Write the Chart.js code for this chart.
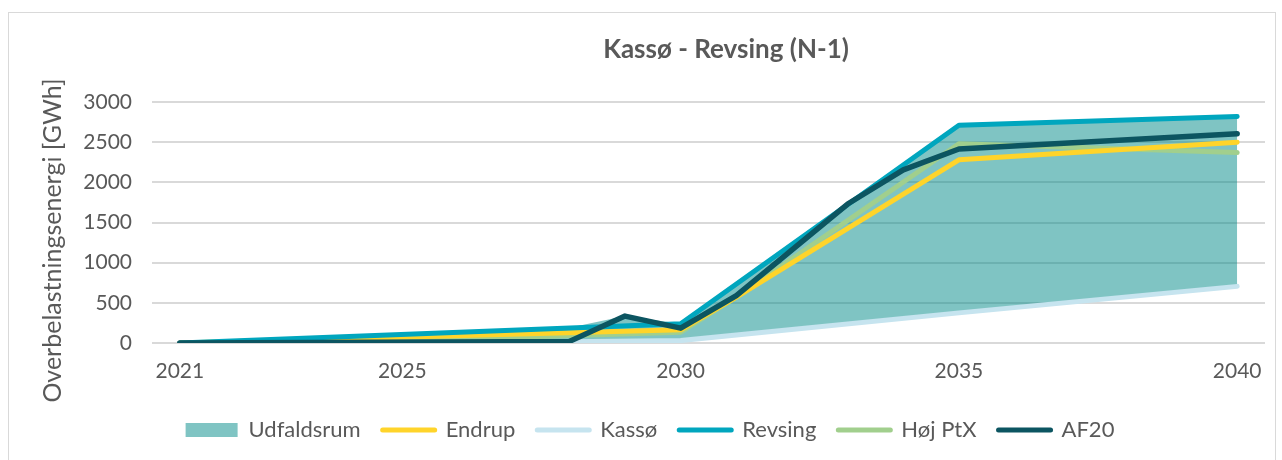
<!DOCTYPE html>
<html><head><meta charset="utf-8">
<script src="https://cdn.jsdelivr.net/npm/chart.js@4.4.1/dist/chart.umd.min.js"></script>
<style>
html,body{margin:0;padding:0;background:#fff;width:1282px;height:460px;overflow:hidden;}
#wrap{position:relative;width:1282px;height:460px;}
#frame{position:absolute;left:8px;top:12px;width:1268px;height:470px;border:1px solid #D9D9D9;box-sizing:border-box;}
#title{position:absolute;left:476px;width:500px;top:33px;text-align:center;font:bold 26px Lato;color:#595959;line-height:30px;}
canvas{position:absolute;left:0;top:0;}
</style></head><body>
<div id="wrap"><div id="frame"></div><canvas id="c" width="1282" height="460"></canvas><div id="title">Kassø - Revsing (N-1)</div></div>
<script>
// ---- data ----
const xTickYears = [2021, 2025, 2030, 2035, 2040];
const yTickStep = 500;
const yAxisTitle = 'Overbelastningsenergi [GWh]';

const udfaldMaxYears  = [2021, 2028, 2029, 2030, 2031, 2032, 2033, 2034, 2035, 2040];
const udfaldMaxValues = [0, 190, 335, 240, 734, 1228, 1730, 2216, 2710, 2820];
const udfaldMinYears  = [2021, 2028, 2030, 2035, 2040];
const udfaldMinValues = [0, 15, 30, 375, 705];

const endrupYears  = [2021, 2030, 2031, 2035, 2040];
const endrupValues = [0, 165, 570, 2280, 2500];

const kassoYears  = [2021, 2028, 2030, 2035, 2040];
const kassoValues = [0, 15, 30, 375, 705];

const revsingYears  = [2021, 2030, 2035, 2040];
const revsingValues = [0, 240, 2710, 2820];

const hojPtxYears  = [2021, 2024, 2030, 2031, 2035, 2040];
const hojPtxValues = [0, 10, 135, 570, 2480, 2370];

const af20Years  = [2021, 2028, 2029, 2030, 2031, 2032, 2033, 2034, 2035, 2040];
const af20Values = [0, 20, 335, 185, 590, 1160, 1730, 2155, 2415, 2605];

const pts = (xs, ys) => xs.map((x, i) => ({x: x, y: ys[i]}));

const FONT = 'Lato';
const TXT = '#595959';
const FILL = 'rgba(0,137,136,0.5)';

const lineDs = (label, xs, ys, color, order, width) => ({
  label, data: pts(xs, ys), borderColor: color, backgroundColor: color,
  borderWidth: width || 5, pointRadius: 0, pointHoverRadius: 0, fill: false,
  borderCapStyle: 'round', borderJoinStyle: 'round', tension: 0, order
});

const datasets = [
  { label: 'Udfaldsrum', data: pts(udfaldMaxYears, udfaldMaxValues), borderColor: 'rgba(0,0,0,0)',
    borderWidth: 0, backgroundColor: FILL, pointRadius: 0, fill: '+1', order: 20, legendRect: true },
  { label: '_min', data: pts(udfaldMinYears, udfaldMinValues), borderColor: 'rgba(0,0,0,0)',
    borderWidth: 0, pointRadius: 0, fill: false, order: 21 },
  lineDs('Endrup', endrupYears, endrupValues, '#FFD42A', 4),
  lineDs('Kassø', kassoYears, kassoValues, '#C6E4EF', 6),
  lineDs('Revsing', revsingYears, revsingValues, '#00A6BE', 3),
  lineDs('Høj PtX', hojPtxYears, hojPtxValues, '#A1CF8D', 5),
  lineDs('AF20', af20Years, af20Values, '#0C5561', 1, 5.5)
];

const yTitlePlugin = {
  id: 'yTitle',
  afterDraw(chart) {
    const ctx = chart.ctx, a = chart.chartArea;
    ctx.save();
    ctx.translate(53, (a.top + a.bottom) / 2 + 18);
    ctx.rotate(-Math.PI / 2);
    ctx.font = '25px ' + FONT;
    ctx.fillStyle = TXT;
    ctx.textAlign = 'center';
    ctx.textBaseline = 'middle';
    ctx.fillText(yAxisTitle, 0, 0);
    ctx.restore();
  }
};

new Chart(document.getElementById('c'), {
  type: 'line',
  data: { datasets },
  plugins: [yTitlePlugin],
  options: {
    responsive: false,
    animation: false,
    events: [],
    layout: { padding: { left: 35, right: 17, top: 102, bottom: 9 } },
    plugins: {
      tooltip: { enabled: false },
      title: { display: false },
      filler: { propagate: false },
      legend: {
        position: 'bottom',
        labels: {
          usePointStyle: true,
          pointStyleWidth: 52,
          boxHeight: 14,
          padding: 22,
          color: TXT,
          font: { family: FONT, size: 22 },
          generateLabels: (chart) => chart.data.datasets
            .map((ds, i) => ({ ds, i }))
            .filter(o => o.ds.label !== '_min')
            .map(({ ds, i }) => ds.legendRect ? {
              text: ds.label, fillStyle: ds.backgroundColor, strokeStyle: ds.backgroundColor,
              lineWidth: 0, pointStyle: 'rect', hidden: false, datasetIndex: i, fontColor: TXT
            } : {
              text: ds.label, fillStyle: ds.borderColor, strokeStyle: ds.borderColor,
              lineWidth: 5, lineCap: 'round', pointStyle: 'line', hidden: false, datasetIndex: i, fontColor: TXT
            })
        }
      }
    },
    scales: {
      x: {
        type: 'linear', min: 2020.5, max: 2040.5,
        afterBuildTicks: (s) => { s.ticks = xTickYears.map(v => ({ value: v })); },
        ticks: { color: TXT, font: { family: FONT, size: 21 }, padding: 16, autoSkip: false, maxRotation: 0,
                 callback: (v) => String(v) },
        grid: { display: false, drawTicks: false },
        border: { display: false },
        afterFit: (s) => { s.height = 54; }
      },
      y: {
        min: 0, max: 3000,
        ticks: { stepSize: yTickStep, color: TXT, font: { family: FONT, size: 21 }, padding: 20,
                 callback: (v) => String(v) },
        grid: { color: '#D9D9D9', lineWidth: 2, drawTicks: false },
        border: { display: false },
        title: { display: false },
        afterFit: (s) => { s.width = 152 - 35; }
      }
    }
  }
});
</script>
</body></html>
